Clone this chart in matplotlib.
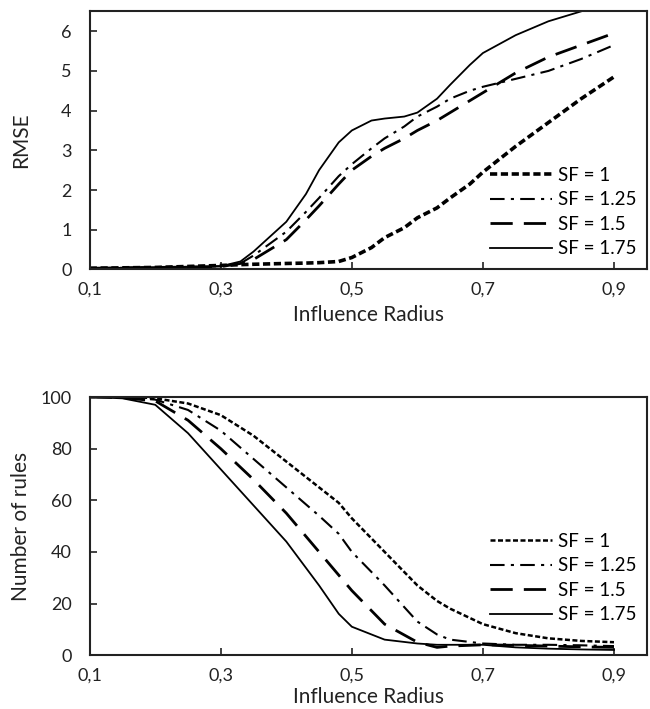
import matplotlib.pyplot as plt
from matplotlib.ticker import FuncFormatter

plt.rcParams['font.family'] = ['Lato', 'DejaVu Sans']

# RMSE vs influence radius
r_rmse = [0.1, 0.2, 0.3, 0.33, 0.35, 0.4, 0.43, 0.45, 0.48, 0.5, 0.53, 0.55, 0.58,
          0.6, 0.63, 0.65, 0.68, 0.7, 0.75, 0.8, 0.85, 0.9]
rmse_sf1 = [0.03, 0.05, 0.1, 0.12, 0.13, 0.15, 0.16, 0.17, 0.2, 0.3, 0.55, 0.8, 1.05,
            1.3, 1.55, 1.8, 2.15, 2.45, 3.1, 3.7, 4.3, 4.85]
rmse_sf125 = [0.03, 0.05, 0.08, 0.15, 0.35, 0.95, 1.45, 1.8, 2.35, 2.65, 3.05, 3.3, 3.6,
              3.85, 4.1, 4.3, 4.5, 4.6, 4.8, 5.0, 5.3, 5.65]
rmse_sf15 = [0.03, 0.05, 0.07, 0.15, 0.25, 0.75, 1.25, 1.6, 2.15, 2.5, 2.85, 3.05, 3.3,
             3.5, 3.75, 3.95, 4.25, 4.45, 4.95, 5.35, 5.65, 5.95]
rmse_sf175 = [0.03, 0.05, 0.08, 0.2, 0.45, 1.2, 1.9, 2.5, 3.2, 3.5, 3.75, 3.8, 3.85,
              3.95, 4.3, 4.65, 5.15, 5.45, 5.9, 6.25, 6.5, 6.75]

# number of rules vs influence radius
r_rules = [0.1, 0.15, 0.2, 0.25, 0.3, 0.35, 0.4, 0.45, 0.48, 0.5, 0.55, 0.6, 0.63,
           0.65, 0.7, 0.75, 0.8, 0.85, 0.9]
rules_sf1 = [100, 100.3, 99.5, 97.5, 93, 85, 75, 65, 59, 53, 40, 27, 21,
             18, 12, 8.5, 6.5, 5.5, 5]
rules_sf125 = [100, 100, 99, 95, 87, 76, 65, 54, 47, 40, 27, 13, 8,
               6, 4.5, 4, 4, 3.8, 3.5]
rules_sf15 = [100, 99.8, 98.5, 91, 80, 68, 55, 40, 31, 25, 12, 5, 3,
              3.5, 4, 3.8, 3.5, 3.2, 3]
rules_sf175 = [100, 99.5, 97, 86, 72, 58, 44, 27, 16, 11, 6, 4.5, 4,
               4, 4, 3, 2.5, 2.2, 2]

labels = ['SF = 1', 'SF = 1.25', 'SF = 1.5', 'SF = 1.75']

fig = plt.figure(figsize=(6.5, 7.09), dpi=100)
ax1 = fig.add_axes([0.138, 0.620, 0.857, 0.364])
ax2 = fig.add_axes([0.138, 0.076, 0.857, 0.364])

comma = FuncFormatter(lambda v, p: ('%.1f' % v).replace('.', ','))
ink = '#222222'


def draw(ax, x, ys, lw1, anchor, xlab_y):
    ax.plot(x, ys[0], color='black', lw=lw1, dashes=(2, 1), label=labels[0])
    ax.plot(x, ys[1], color='black', lw=1.5, dashes=(7, 3, 1.5, 3), label=labels[1])
    ax.plot(x, ys[2], color='black', lw=2, dashes=(8, 4), label=labels[2])
    ax.plot(x, ys[3], color='black', lw=1.3, label=labels[3])
    ax.set_xlim(0.1, 0.95)
    ax.set_xticks([0.1, 0.3, 0.5, 0.7, 0.9])
    ax.xaxis.set_major_formatter(comma)
    ax.tick_params(direction='in', length=5, width=1.2, labelsize=13, colors=ink)
    ax.tick_params(axis='x', pad=9)
    ax.tick_params(axis='y', pad=13)
    for s in ax.spines.values():
        s.set_linewidth(1.5)
        s.set_color(ink)
    ax.set_xlabel('Influence Radius', fontsize=15, color=ink)
    ax.xaxis.set_label_coords(0.5, xlab_y)
    ax.yaxis.set_label_coords(-0.106, 0.5)
    ax.legend(loc='lower right', frameon=False, fontsize=13.5, handlelength=3.3,
              handletextpad=0.3, labelspacing=0.4, borderaxespad=0.0,
              bbox_to_anchor=anchor)


draw(ax1, r_rmse, [rmse_sf1, rmse_sf125, rmse_sf15, rmse_sf175], 2.6,
     (0.995, 0.018), -0.138)
ax1.set_ylim(0, 6.5)
ax1.set_yticks(range(0, 7))
ax1.set_ylabel('RMSE', fontsize=15, color=ink)

draw(ax2, r_rules, [rules_sf1, rules_sf125, rules_sf15, rules_sf175], 1.8,
     (0.995, 0.095), -0.125)
ax2.set_ylim(0, 100)
ax2.set_yticks(range(0, 101, 20))
ax2.set_ylabel('Number of rules', fontsize=15, color=ink)

fig.savefig('out.png', dpi=100)
